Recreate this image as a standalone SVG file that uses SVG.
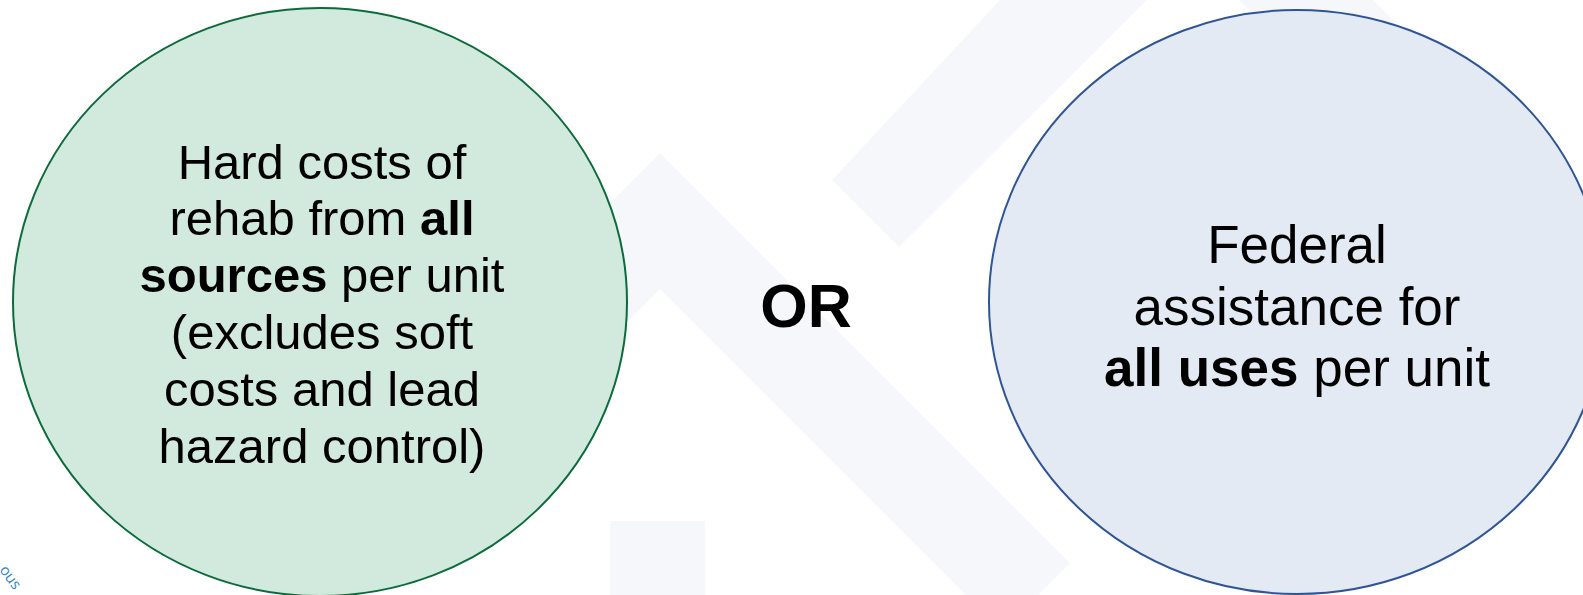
<svg xmlns="http://www.w3.org/2000/svg" width="1583" height="595" viewBox="0 0 1583 595">
  <defs>
    <style>
      .bg { fill: #f5f7fb; }
      .lbl { font-family: "Liberation Sans", Arial, sans-serif; fill: #000000; text-anchor: middle; }
      .b { font-weight: bold; }
      .green { fill: #d1eadd; stroke: #0b6b3a; stroke-width: 2; }
      .blue { fill: #e3eaf3; stroke: #2f5597; stroke-width: 2; }
    </style>
  </defs>
  <rect width="1583" height="595" fill="#ffffff"/>

  <!-- faint house watermark -->
  <g id="watermark">
    <!-- roof chevron -->
    <polygon class="bg" points="660,153 1070,563 1002,631 660,289 318,631 250,563"/>
    <!-- door -->
    <rect class="bg" x="610" y="521" width="95" height="80"/>
    <!-- upper chevron arms -->
    <polygon class="bg" points="1000,0 1147,0 899,247 832,180"/>
    <polygon class="bg" points="1239,0 1373,0 1461.5,88.5 1394.5,155.5"/>
  </g>

  <!-- partial seal text at lower-left corner -->
  <text x="-1" y="570" transform="rotate(54 -1 570)" font-family="'Open Sans', 'Liberation Sans', sans-serif" font-size="15" fill="#2e86c8">ous</text>

  <g id="node-hard-costs">
    <ellipse class="green" cx="320" cy="302" rx="307" ry="294"/>
    <g class="lbl" font-size="49">
      <text x="322" y="178.5">Hard costs of</text>
      <text x="322" y="235.3">rehab from <tspan class="b">all</tspan></text>
      <text x="322" y="292.1"><tspan class="b">sources</tspan> per unit</text>
      <text x="322" y="348.9">(excludes soft</text>
      <text x="322" y="405.7">costs and lead</text>
      <text x="322" y="462.5">hazard control)</text>
    </g>
  </g>

  <g id="node-or">
    <text class="lbl b" x="806" y="327" font-size="61">OR</text>
  </g>

  <g id="node-federal">
    <ellipse class="blue" cx="1297" cy="302" rx="308" ry="292"/>
    <g class="lbl" font-size="53">
      <text x="1297" y="263">Federal</text>
      <text x="1297" y="324.5">assistance for</text>
      <text x="1297" y="386"><tspan class="b">all uses</tspan> per unit</text>
    </g>
  </g>

  <g id="connectors"/>
</svg>
